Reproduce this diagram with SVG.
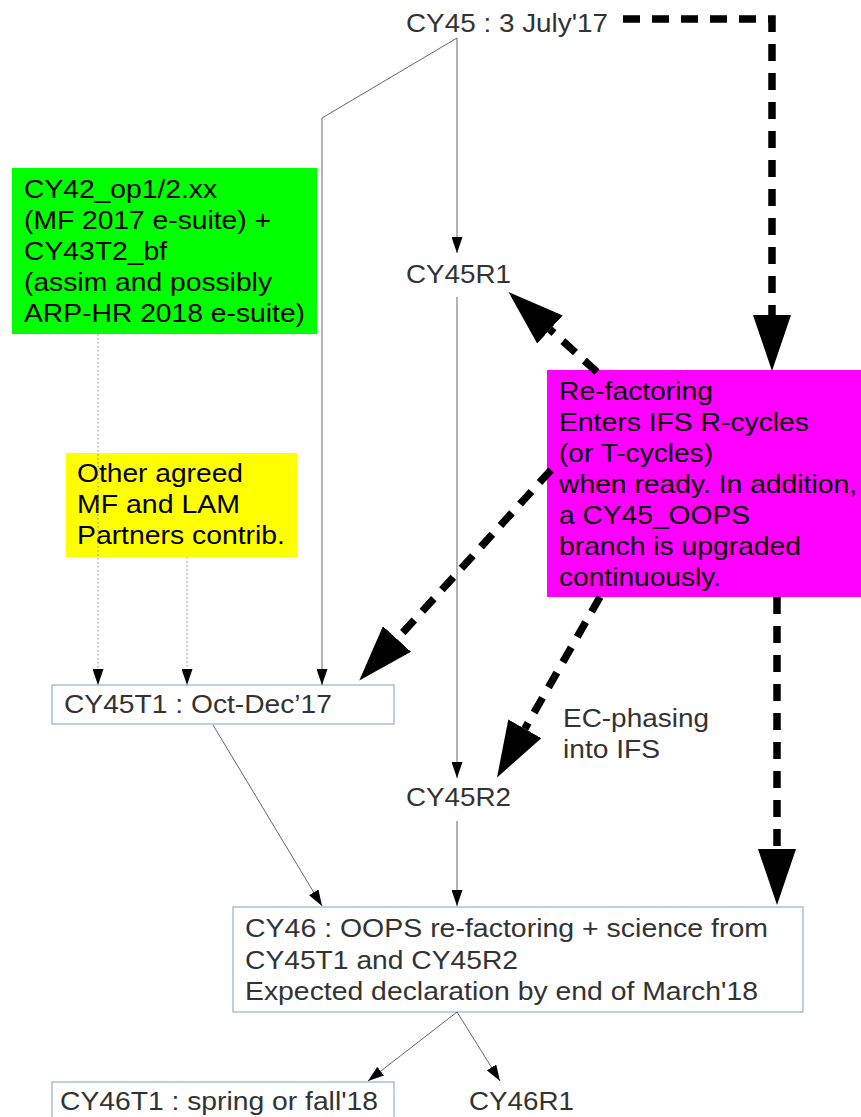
<svg xmlns="http://www.w3.org/2000/svg" width="861" height="1117" viewBox="0 0 861 1117">
<style>
text{font-family:"Liberation Sans",Arial,sans-serif;font-size:25px;}
.dk{fill:#000;font-size:26px;}
.gr{fill:#333;}
.thin{stroke:#666;stroke-width:1;fill:none;}
.dot{stroke:#888;stroke-width:1;stroke-dasharray:1.5 2.5;fill:none;}
.thick{stroke:#000;stroke-width:7.5;stroke-dasharray:17 12;fill:none;}
.wbox{fill:#fff;stroke:#8fb0d8;stroke-width:1.2;}
</style>
<defs>
<marker id="ah" viewBox="0 0 16 11" refX="16" refY="5.5" markerWidth="16" markerHeight="11" markerUnits="userSpaceOnUse" orient="auto"><path d="M0,0 L16,5.5 L0,11 z" fill="#000"/></marker>
<marker id="big" viewBox="0 0 56 38" refX="0" refY="19" markerWidth="56" markerHeight="38" markerUnits="userSpaceOnUse" orient="auto"><path d="M0,0 L56,19 L0,38 z" fill="#000"/></marker>
</defs>

<g id="cy42">
<rect x="12" y="168" width="305" height="166" fill="#00ff00"/>
<text class="dk" x="24" y="198" textLength="193" lengthAdjust="spacingAndGlyphs">CY42_op1/2.xx</text>
<text class="dk" x="24" y="229" textLength="247" lengthAdjust="spacingAndGlyphs">(MF 2017 e-suite) +</text>
<text class="dk" x="24" y="260" textLength="143" lengthAdjust="spacingAndGlyphs">CY43T2_bf</text>
<text class="dk" x="24" y="291" textLength="248" lengthAdjust="spacingAndGlyphs">(assim and possibly</text>
<text class="dk" x="24" y="322" textLength="281" lengthAdjust="spacingAndGlyphs">ARP-HR 2018 e-suite)</text>
</g>

<g id="other">
<rect x="66" y="453" width="231" height="104" fill="#ffff00"/>
<text class="dk" x="77" y="482" textLength="166" lengthAdjust="spacingAndGlyphs">Other agreed</text>
<text class="dk" x="77" y="513" textLength="163" lengthAdjust="spacingAndGlyphs">MF and LAM</text>
<text class="dk" x="77" y="544" textLength="208" lengthAdjust="spacingAndGlyphs">Partners contrib.</text>
</g>

<g id="refactoring">
<rect x="547" y="370" width="314" height="227" fill="#ff00ff"/>
<text class="dk" x="559" y="400" textLength="154" lengthAdjust="spacingAndGlyphs">Re-factoring</text>
<text class="dk" x="559" y="431" textLength="250" lengthAdjust="spacingAndGlyphs">Enters IFS R-cycles</text>
<text class="dk" x="559" y="462" textLength="154" lengthAdjust="spacingAndGlyphs">(or T-cycles)</text>
<text class="dk" x="559" y="493" textLength="298" lengthAdjust="spacingAndGlyphs">when ready. In addition,</text>
<text class="dk" x="559" y="524" textLength="191" lengthAdjust="spacingAndGlyphs">a CY45_OOPS</text>
<text class="dk" x="559" y="555" textLength="242" lengthAdjust="spacingAndGlyphs">branch is upgraded</text>
<text class="dk" x="559" y="586" textLength="162" lengthAdjust="spacingAndGlyphs">continuously.</text>
</g>

<g id="cy45">
<text class="gr" x="406" y="32" textLength="202" lengthAdjust="spacingAndGlyphs">CY45 : 3 July'17</text>
</g>

<g id="cy45r1">
<text class="gr" x="406" y="283" textLength="105" lengthAdjust="spacingAndGlyphs">CY45R1</text>
</g>

<g id="cy45r2">
<text class="gr" x="406" y="806" textLength="105" lengthAdjust="spacingAndGlyphs">CY45R2</text>
</g>

<g id="cy45t1">
<rect class="wbox" x="52" y="685" width="342" height="39"/>
<text class="gr" x="64" y="713" textLength="268" lengthAdjust="spacingAndGlyphs">CY45T1 : Oct-Dec’17</text>
</g>

<g id="cy46">
<rect class="wbox" x="233" y="907" width="570" height="105"/>
<text class="gr" x="245" y="937" textLength="523" lengthAdjust="spacingAndGlyphs">CY46 : OOPS re-factoring + science from</text>
<text class="gr" x="245" y="969" textLength="273" lengthAdjust="spacingAndGlyphs">CY45T1 and CY45R2</text>
<text class="gr" x="245" y="1000" textLength="513" lengthAdjust="spacingAndGlyphs">Expected declaration by end of March'18</text>
</g>

<g id="cy46t1">
<rect class="wbox" x="52" y="1082" width="342" height="50"/>
<text class="gr" x="60" y="1110" textLength="318" lengthAdjust="spacingAndGlyphs">CY46T1 : spring or fall'18</text>
</g>

<g id="cy46r1">
<text class="gr" x="469" y="1110" textLength="105" lengthAdjust="spacingAndGlyphs">CY46R1</text>
</g>

<g id="connectors">
<polyline class="thin" points="457,38 322,118 322,685" marker-end="url(#ah)"/>
<line class="thin" x1="457" y1="38" x2="457" y2="253" marker-end="url(#ah)"/>
<line class="dot" x1="98" y1="334" x2="98" y2="685" marker-end="url(#ah)"/>
<line class="dot" x1="187" y1="557" x2="187" y2="685" marker-end="url(#ah)"/>
<line class="thin" x1="457" y1="297" x2="457" y2="778" marker-end="url(#ah)"/>
<line class="thin" x1="457" y1="821" x2="457" y2="906" marker-end="url(#ah)"/>
<line class="thin" x1="213" y1="725" x2="322" y2="906" marker-end="url(#ah)"/>
<line class="thin" x1="457" y1="1012" x2="368" y2="1081" marker-end="url(#ah)"/>
<line class="thin" x1="457" y1="1012" x2="500" y2="1081" marker-end="url(#ah)"/>

<polyline class="thick" points="623,19 772,19 772,315" marker-end="url(#big)"/>
<line class="thick" x1="597" y1="372" x2="550" y2="329.5" marker-end="url(#big)"/>
<line class="thick" x1="551" y1="470" x2="397" y2="639" marker-end="url(#big)"/>
<line class="thick" x1="600" y1="597" x2="524.8" y2="728.8" marker-end="url(#big)"/>
<line class="thick" x1="777" y1="597" x2="777" y2="849" marker-end="url(#big)"/>
<text class="gr" x="563" y="727" textLength="146" lengthAdjust="spacingAndGlyphs">EC-phasing</text>
<text class="gr" x="563" y="758" textLength="97" lengthAdjust="spacingAndGlyphs">into IFS</text>
</g>
</svg>
